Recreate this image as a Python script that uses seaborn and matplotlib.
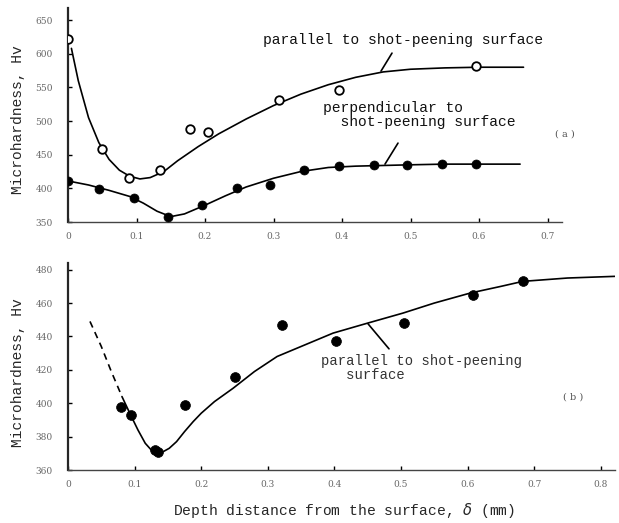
import matplotlib
matplotlib.use("Agg")
import matplotlib.pyplot as plt
import seaborn as sns
import pandas as pd

# ---- data ----
# panel (a): measured points
par_a_x = [0.0, 0.05, 0.089, 0.134, 0.178, 0.205, 0.308, 0.396, 0.595]
par_a_y = [622, 458, 415, 427, 488, 484, 531, 546, 582]
perp_a_x = [0.0, 0.045, 0.096, 0.146, 0.195, 0.246, 0.295, 0.345, 0.395, 0.446, 0.495, 0.546, 0.595]
perp_a_y = [411, 399, 385, 357, 376, 401, 405, 427, 433, 434, 434, 436, 436]
# panel (a): fitted curves
par_a_curve_x = [0.005, 0.015, 0.03, 0.045, 0.06, 0.075, 0.09, 0.105, 0.12, 0.14, 0.16, 0.19, 0.22, 0.26,
                 0.30, 0.34, 0.38, 0.42, 0.46, 0.50, 0.55, 0.60, 0.665]
par_a_curve_y = [608, 560, 505, 468, 443, 427, 418, 414, 416, 425, 441, 462, 481, 503,
                 523, 540, 554, 565, 573, 577, 579, 580, 580]
perp_a_curve_x = [0.005, 0.03, 0.06, 0.09, 0.11, 0.13, 0.15, 0.17, 0.20, 0.23, 0.26, 0.30, 0.34,
                  0.38, 0.42, 0.46, 0.50, 0.55, 0.60, 0.66]
perp_a_curve_y = [410, 405, 397, 388, 378, 366, 358, 362, 375, 389, 402, 415, 425,
                  431, 433, 434, 435, 436, 436, 436]

# panel (b): measured points
par_b_x = [0.080, 0.094, 0.130, 0.135, 0.175, 0.250, 0.322, 0.402, 0.505, 0.608, 0.683]
par_b_y = [398, 393, 372, 371, 399, 416, 447, 437, 448, 465, 473]
# panel (b): fitted curve, dashed extrapolation then solid
par_b_dash_x = [0.033, 0.05, 0.065, 0.081]
par_b_dash_y = [449, 434, 419, 404]
par_b_curve_x = [0.081, 0.094, 0.105, 0.116, 0.125, 0.134, 0.143, 0.152, 0.163, 0.175, 0.188, 0.20,
                 0.22, 0.248, 0.28, 0.314, 0.35, 0.398, 0.45, 0.503, 0.55, 0.604, 0.65, 0.683, 0.75, 0.821]
par_b_curve_y = [404, 393, 384, 376, 372, 370, 371, 373, 377, 383, 389, 394,
                 401, 409, 419, 428, 434, 442, 448, 454, 460, 466, 470, 473, 475, 476]

xticks_a = [0, 0.1, 0.2, 0.3, 0.4, 0.5, 0.6, 0.7]
xticklabels_a = ["0", "0.1", "0.2", "0.3", "0.4", "0.5", "0.6", "0.7"]
yticks_a = [350, 400, 450, 500, 550, 600, 650]
xticks_b = [0, 0.1, 0.2, 0.3, 0.4, 0.5, 0.6, 0.7, 0.8]
xticklabels_b = ["0", "0.1", "0.2", "0.3", "0.4", "0.5", "0.6", "0.7", "0.8"]
yticks_b = [360, 380, 400, 420, 440, 460, 480]

sns.set_style("ticks")
plt.rcParams['font.family'] = ['Liberation Mono', 'DejaVu Sans Mono', 'DejaVu Sans']

fig = plt.figure(figsize=(6.19, 5.23), dpi=100)
ax1 = fig.add_axes([68/619, 1-222/523, (562-68)/619, (222-8)/523])
ax2 = fig.add_axes([68/619, 1-470/523, (615-68)/619, (470-263)/523])

lw = 1.2
kw_line = dict(color="black", linewidth=lw, sort=False, estimator=None, legend=False)

# panel a
sns.lineplot(x=par_a_curve_x, y=par_a_curve_y, ax=ax1, **kw_line)
sns.lineplot(x=perp_a_curve_x, y=perp_a_curve_y, ax=ax1, **kw_line)
sns.scatterplot(x=par_a_x, y=par_a_y, ax=ax1, marker="o", s=38, facecolor="white",
                edgecolor="black", linewidth=1.3, zorder=3)
sns.scatterplot(x=perp_a_x, y=perp_a_y, ax=ax1, marker="o", s=42, color="black",
                edgecolor="black", linewidth=0.5, zorder=3)

# panel b
sns.lineplot(x=par_b_dash_x, y=par_b_dash_y, ax=ax2, linestyle=(0, (4, 3)), **kw_line)
sns.lineplot(x=par_b_curve_x, y=par_b_curve_y, ax=ax2, **kw_line)
sns.scatterplot(x=par_b_x, y=par_b_y, ax=ax2, marker="o", s=50, color="black",
                edgecolor="black", linewidth=0.5, zorder=3)

ax1.set_xlim(0, (562-68)/685)
ax1.set_ylim(350, 668)
ax2.set_xlim(0, (615-68)/666)
ax2.set_ylim(360, 484)

tick_font = dict(family="DejaVu Serif", size=6.5, color="#666666")
for ax, xt, xl, yt in [(ax1, xticks_a, xticklabels_a, yticks_a), (ax2, xticks_b, xticklabels_b, yticks_b)]:
    ax.set_xticks(xt)
    ax.set_xticklabels(xl, fontdict=tick_font)
    ax.set_yticks(yt)
    ax.set_yticklabels([str(v) for v in yt], fontdict=tick_font)
    ax.tick_params(direction="in", length=3, width=1, color="black")
    ax.tick_params(axis="y", pad=11)
    ax.tick_params(axis="x", pad=7)
    for s in ["top", "right"]:
        ax.spines[s].set_visible(False)
    ax.spines["left"].set_linewidth(1.6)
    ax.spines["bottom"].set_linewidth(1.0)
    ax.spines["bottom"].set_color("#444444")
    ax.set_ylabel("Microhardness, Hv", fontsize=10.5)

ax1.yaxis.set_label_coords(-0.087, 0.48)
ax2.yaxis.set_label_coords(-0.079, 0.47)
ax2.set_xlabel("Depth distance from the surface, $\\delta$ (mm)", fontsize=10.5)
ax2.xaxis.set_label_coords(0.505, -0.15)

# annotations panel a
ax1.text(263/619, 1-40/523, "parallel to shot-peening surface", transform=fig.transFigure,
         fontsize=10.5, ha="left", va="center", color="#111111")
ax1.plot([(381-68)/685, (392-68)/685], [650-(71-20)/0.673, 650-(53-20)/0.673], color="black", lw=1.2)
ax1.text(323/619, 1-115/523, "perpendicular to\n  shot-peening surface", transform=fig.transFigure,
         fontsize=10.5, ha="left", va="center", linespacing=1.0, color="#111111")
ax1.plot([(385-68)/685, (398-68)/685], [650-(164-20)/0.673, 650-(143-20)/0.673], color="black", lw=1.2)
ax1.text(565/619, 1-134/523, "( a )", transform=fig.transFigure, fontsize=7,
         family="DejaVu Serif", color="#555555", ha="center", va="center")

# annotations panel b
ax2.text(321/619, 1-368/523, "parallel to shot-peening\n   surface", transform=fig.transFigure,
         fontsize=10, ha="left", va="center", color="#333333", linespacing=1.0)
ax2.plot([(368-68)/666, (389-68)/666], [360+(470-324)/1.667, 360+(470-349)/1.667], color="black", lw=1.2)
ax2.text(573/619, 1-397/523, "( b )", transform=fig.transFigure, fontsize=7,
         family="DejaVu Serif", color="#555555", ha="center", va="center")

fig.savefig("out.png", dpi=100)
